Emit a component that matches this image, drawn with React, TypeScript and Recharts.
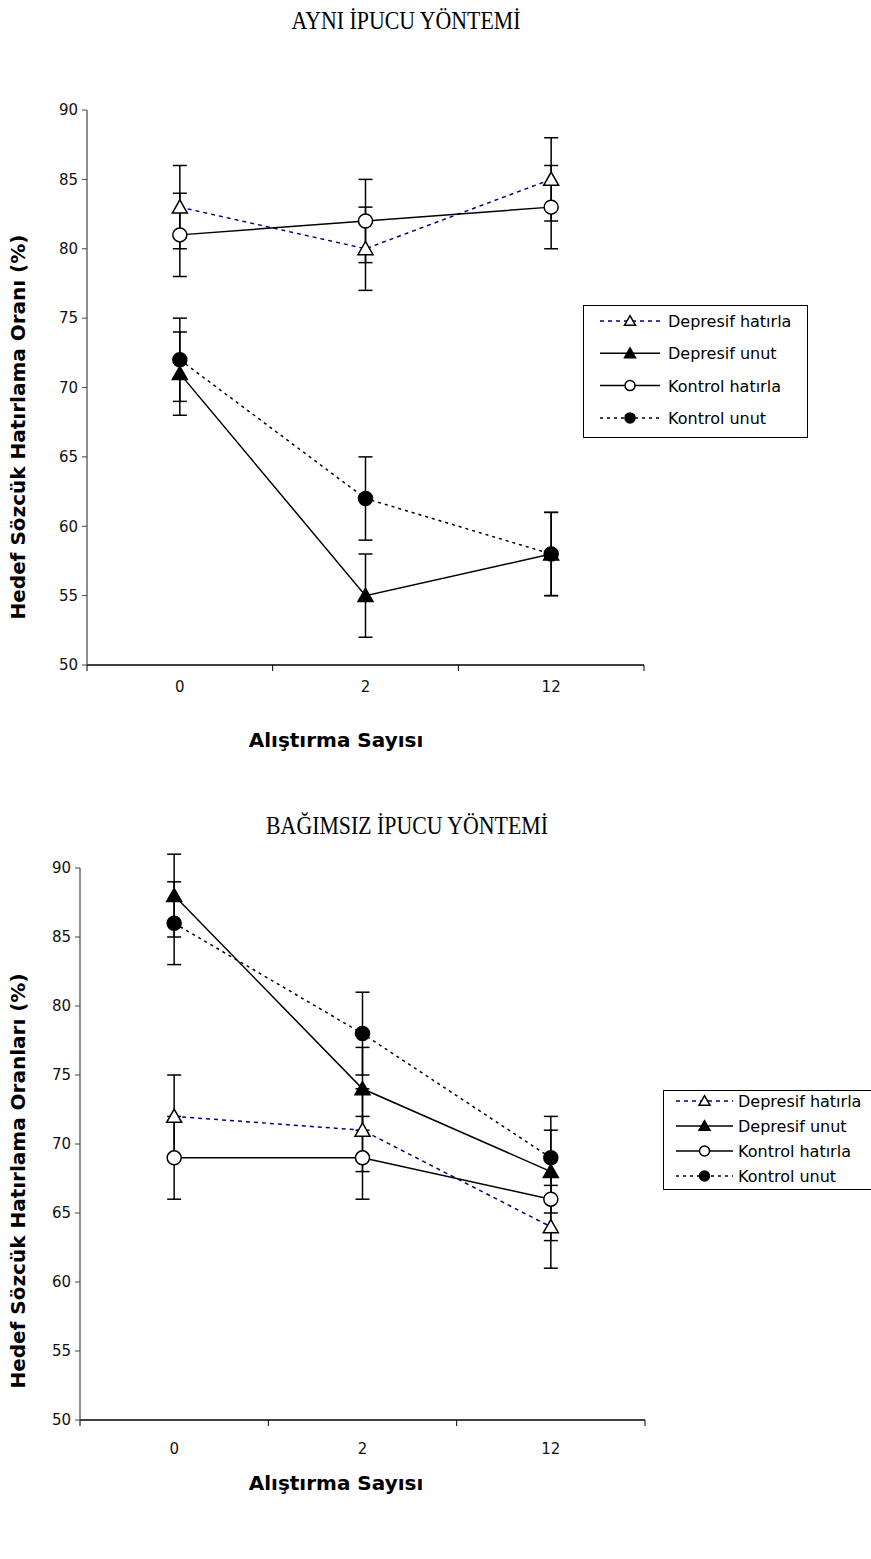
import React from "react";
import { LineChart, Line, XAxis, YAxis, ErrorBar, Legend } from "recharts";

const categories = ["0", "2", "12"];
const seriesNames = ["Depresif hatırla", "Depresif unut", "Kontrol hatırla", "Kontrol unut"];
const yTicks = [50, 55, 60, 65, 70, 75, 80, 85, 90];

// AYNI İPUCU YÖNTEMİ
const ayniDepHatirla = [83, 80, 85];
const ayniDepUnut = [71, 55, 58];
const ayniKonHatirla = [81, 82, 83];
const ayniKonUnut = [72, 62, 58];
const ayniErr = [3, 3, 3];

// BAĞIMSIZ İPUCU YÖNTEMİ
const bagDepHatirla = [72, 71, 64];
const bagDepUnut = [88, 74, 68];
const bagKonHatirla = [69, 69, 66];
const bagKonUnut = [86, 78, 69];
const bagErr = [3, 3, 3];

const SANS = "'DejaVu Sans', 'Liberation Sans', Arial, sans-serif";
const SERIF = "'Liberation Serif', 'Times New Roman', serif";

const seriesKeys = ["dh", "du", "kh", "ku"];
const seriesStyle: Record<string, any> = {
  dh: { stroke: "#000080", dash: "4 4", shape: "triangle", fill: "#fff" },
  du: { stroke: "#000", dash: undefined, shape: "triangle", fill: "#000" },
  kh: { stroke: "#000", dash: undefined, shape: "circle", fill: "#fff" },
  ku: { stroke: "#000", dash: "3 4", shape: "circle", fill: "#000" },
};

function buildRows(dh: number[], du: number[], kh: number[], ku: number[], err: number[]) {
  return categories.map((c, i) => ({ x: i, label: c, dh: dh[i], du: du[i], kh: kh[i], ku: ku[i], err: err[i] }));
}

const ayniRows = buildRows(ayniDepHatirla, ayniDepUnut, ayniKonHatirla, ayniKonUnut, ayniErr);
const bagRows = buildRows(bagDepHatirla, bagDepUnut, bagKonHatirla, bagKonUnut, bagErr);

function Marker({ cx, cy, shape, fill, size }: any) {
  if (cx == null || cy == null) return null;
  if (shape === "triangle") {
    const w = size;
    const h = size * 0.88;
    const pts = `${cx},${cy - h * 0.55} ${cx + w / 2},${cy + h * 0.45} ${cx - w / 2},${cy + h * 0.45}`;
    return <polygon points={pts} fill={fill} stroke="#000" strokeWidth={1.5} />;
  }
  return <circle cx={cx} cy={cy} r={size / 2} fill={fill} stroke="#000" strokeWidth={1.5} />;
}

const makeXTick = (labelOffset: number) => ({ x, y, payload }: any) => {
  const v = payload.value;
  if (Number.isInteger(v)) {
    return (
      <text x={x} y={y + labelOffset} textAnchor="middle" fontSize={15} fontFamily={SANS} fill="#111">
        {categories[v]}
      </text>
    );
  }
  return <line x1={x} y1={y - 6} x2={x} y2={y} stroke="#000" strokeWidth={1} />;
};

function LegendBox({ box }: any) {
  return (
    <div
      style={{
        width: box.w,
        height: box.h,
        border: "1px solid #000",
        borderRight: box.noRight ? "none" : "1px solid #000",
        background: "#fff",
        boxSizing: "border-box",
        position: "relative",
      }}
    >
      <svg width={box.w} height={box.h} style={{ position: "absolute", left: -1, top: -1 }}>
        {seriesKeys.map((k, i) => {
          const s = seriesStyle[k];
          const cy = box.first + i * box.step;
          return (
            <g key={k}>
              <line x1={box.lx1} x2={box.lx2} y1={cy} y2={cy} stroke={s.stroke} strokeWidth={1.5} strokeDasharray={s.dash} />
              <Marker cx={(box.lx1 + box.lx2) / 2} cy={cy} shape={s.shape} fill={s.fill} size={s.shape === "triangle" ? 11 : 10} />
              <text x={box.tx} y={cy + 6} fontSize={16} fontFamily={SANS} fill="#000">
                {seriesNames[i]}
              </text>
            </g>
          );
        })}
      </svg>
    </div>
  );
}

function Panel({ rows, top, height, left, right, bottom, box, labelOffset }: any) {
  const XTick = makeXTick(labelOffset);
  return (
    <div style={{ position: "absolute", left: 0, top }}>
      <LineChart width={871} height={height} data={rows} margin={{ top: 110, right, left, bottom }}>
        <XAxis
          dataKey="x"
          type="number"
          domain={[-0.5, 2.5]}
          ticks={[-0.5, 0, 0.5, 1, 1.5, 2, 2.5]}
          allowDataOverflow
          tick={<XTick />}
          tickLine={false}
          tickSize={6}
          tickMargin={0}
          height={30}
          axisLine={{ stroke: "#000", strokeWidth: 1.5 }}
          interval={0}
        />
        <YAxis
          type="number"
          domain={[50, 90]}
          ticks={yTicks}
          allowDataOverflow
          width={60}
          tickSize={5}
          tickMargin={4}
          axisLine={{ stroke: "#444", strokeWidth: 1.2 }}
          tickLine={{ stroke: "#444" }}
          tick={{ fontSize: 15, fontFamily: SANS, fill: "#111" }}
          interval={0}
        />
        <Legend
          layout="horizontal"
          verticalAlign="middle"
          align="center"
          wrapperStyle={{ left: box.x, top: box.y, width: box.w, height: box.h }}
          content={() => <LegendBox box={box} />}
        />
        {seriesKeys.map((k, i) => {
          const s = seriesStyle[k];
          return (
            <Line
              key={k}
              dataKey={k}
              name={seriesNames[i]}
              stroke={s.stroke}
              strokeWidth={1.5}
              strokeDasharray={s.dash}
              isAnimationActive={false}
              activeDot={false}
              dot={(p: any) => <Marker key={`${k}-${p.index}`} cx={p.cx} cy={p.cy} shape={s.shape} fill={s.fill} size={s.shape === "triangle" ? 15 : 14} />}
            >
              <ErrorBar dataKey="err" direction="y" width={7} stroke="#000" strokeWidth={1.5} isAnimationActive={false} />
            </Line>
          );
        })}
      </LineChart>
    </div>
  );
}

const Abs = ({ x, y, children, style, t }: any) => (
  <div style={{ position: "absolute", left: x, top: y, transform: `translate(-50%, -50%) ${t || ""}`, whiteSpace: "nowrap", ...style }}>
    {children}
  </div>
);

export default function App() {
  return (
    <div style={{ position: "absolute", left: 0, top: 0, width: 871, height: 1559, background: "#fff", overflow: "hidden" }}>
      <Abs x={406} y={21} t="scaleX(0.84)" style={{ fontFamily: SERIF, fontSize: 26, color: "#000" }}>AYNI İPUCU YÖNTEMİ</Abs>
      <Panel
        rows={ayniRows}
        top={0}
        height={700}
        left={27}
        right={227}
        bottom={5}
        labelOffset={21}
        box={{ x: 583, y: 305, w: 225, h: 133, first: 16, step: 32.3, lx1: 17, lx2: 77, tx: 85 }}
      />
      <Abs x={18} y={427} t="rotate(-90deg)" style={{ fontFamily: SANS, fontSize: 20, fontWeight: "bold" }}>
        Hedef Sözcük Hatırlama Oranı (%)
      </Abs>
      <Abs x={336} y={740} style={{ fontFamily: SANS, fontSize: 20, fontWeight: "bold" }}>Alıştırma Sayısı</Abs>

      <Abs x={407} y={826} t="scaleX(0.84)" style={{ fontFamily: SERIF, fontSize: 26, color: "#000" }}>BAĞIMSIZ İPUCU YÖNTEMİ</Abs>
      <Panel
        rows={bagRows}
        top={758}
        height={720}
        left={20}
        right={226}
        bottom={28}
        labelOffset={28}
        box={{ x: 663, y: 332, w: 215, h: 100, first: 11, step: 25, lx1: 13, lx2: 70, tx: 75, noRight: true }}
      />
      <Abs x={18} y={1181} t="rotate(-90deg)" style={{ fontFamily: SANS, fontSize: 20, fontWeight: "bold" }}>
        Hedef Sözcük Hatırlama Oranları (%)
      </Abs>
      <Abs x={336} y={1483} style={{ fontFamily: SANS, fontSize: 20, fontWeight: "bold" }}>Alıştırma Sayısı</Abs>
    </div>
  );
}
